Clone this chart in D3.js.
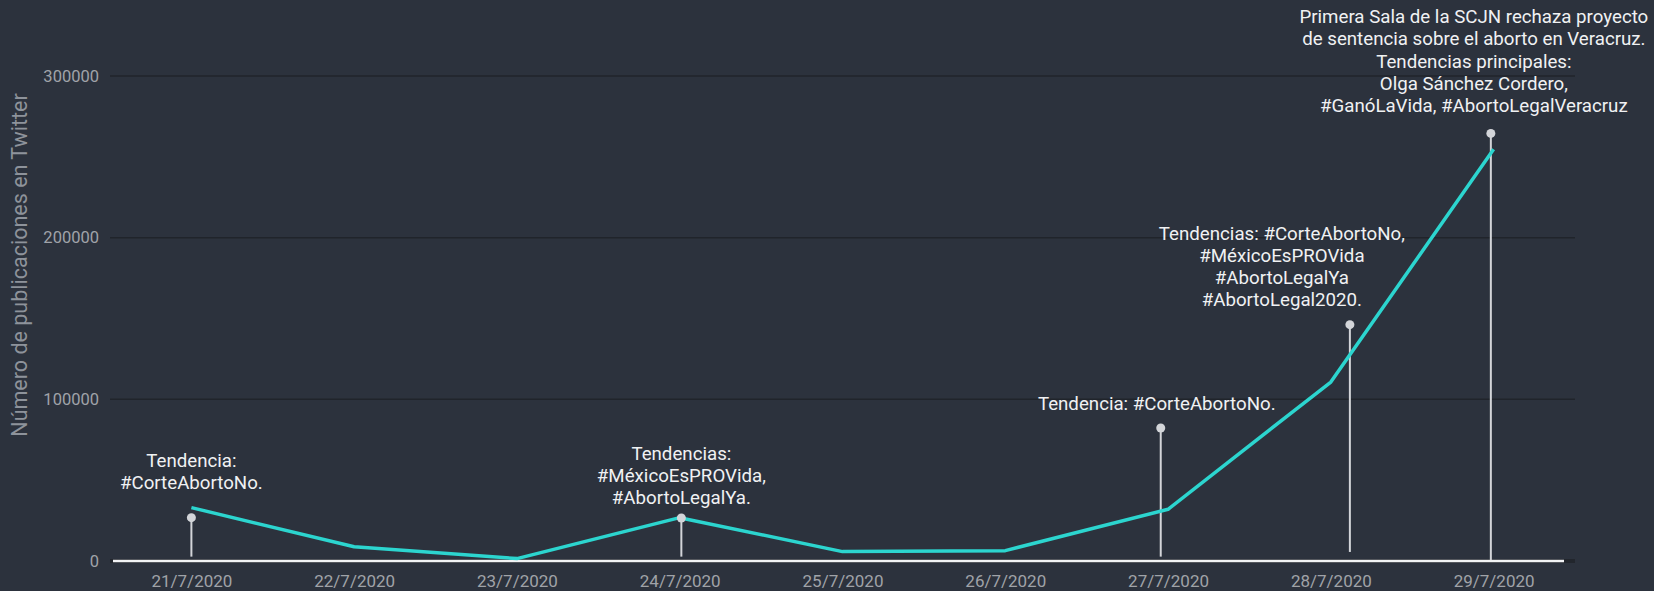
<!DOCTYPE html>
<html>
<head>
<meta charset="utf-8">
<script src="https://d3js.org/d3.v7.min.js"></script>
<style>
  body { margin: 0; background: #2c323d; }
  svg { display: block; font-family: Roboto, "Noto Sans", sans-serif; }
</style>
</head>
<body>
<div id="chart-area"></div>
<script>

// Data
var dates = ["21/7/2020", "22/7/2020", "23/7/2020", "24/7/2020", "25/7/2020",
	"26/7/2020", "27/7/2020", "28/7/2020", "29/7/2020"];
var posts = [33000, 8800, 1500, 26800, 5800, 6400, 32000, 110700, 254700];
var yTicks = [0, 100000, 200000, 300000];

// Annotations (position in days from 21/7, top and bottom value of the pin)
var noteDay = [0, 3.01, 5.955, 7.117, 7.983];
var noteTop = [26800, 26600, 82300, 146200, 264500];
var noteBase = [2700, 2700, 2700, 5600, 600];
var noteText = [
	["Tendencia:", "#CorteAbortoNo."],
	["Tendencias:", "#MéxicoEsPROVida,", "#AbortoLegalYa."],
	["Tendencia: #CorteAbortoNo."],
	["Tendencias: #CorteAbortoNo,", "#MéxicoEsPROVida", "#AbortoLegalYa", "#AbortoLegal2020."],
	["Primera Sala de la SCJN rechaza proyecto", "de sentencia sobre el aborto en Veracruz.",
		"Tendencias principales:", "Olga Sánchez Cordero,", "#GanóLaVida, #AbortoLegalVeracruz"]
];
// label offsets (layout only)
var noteDx = [0, 0, -4, -68, -17];
var noteGap = [25, 20, 24, 25, 28];

// SVG drawing area
var W = 1654, H = 591;
var margin = {top: 76, right: 79, bottom: 30, left: 110};
var width = W - margin.left - margin.right;
var height = 561 - margin.top;

var svg = d3.select("#chart-area").append("svg")
	.attr("width", W)
	.attr("height", H);

var g = svg.append("g")
	.attr("transform", "translate(" + margin.left + "," + margin.top + ")");

// Scales
var step = width / dates.length;
var x = d3.scaleLinear()
	.domain([0, dates.length - 1])
	.range([step / 2, width - step / 2]);

var y = d3.scaleLinear()
	.domain([0, 300000])
	.range([height, 0]);

// Grid lines
g.selectAll(".grid")
	.data(yTicks.slice(1))
	.enter().append("line")
	.attr("class", "grid")
	.attr("x1", 0)
	.attr("x2", width)
	.attr("y1", function(d) { return y(d); })
	.attr("y2", function(d) { return y(d); })
	.attr("stroke", "#20242b")
	.attr("stroke-width", 1.5);

// Y axis
var yAxis = d3.axisLeft(y).tickValues(yTicks).tickSize(0).tickPadding(11)
	.tickFormat(function(d) { return d; });
var yAxisGroup = g.append("g").call(yAxis);
yAxisGroup.select(".domain").remove();
yAxisGroup.selectAll("text")
	.attr("fill", "#a0a3a9")
	.style("font-size", "16.5px")
	.style("font-family", "Roboto");

// X axis
var xAxis = d3.axisBottom(x).tickValues(d3.range(dates.length)).tickSize(0).tickPadding(14)
	.tickFormat(function(d) { return dates[d]; });
var xAxisGroup = g.append("g")
	.attr("transform", "translate(0," + height + ")")
	.call(xAxis);
xAxisGroup.select(".domain").remove();
xAxisGroup.selectAll("text")
	.attr("fill", "#a0a3a8")
	.style("font-size", "17px")
	.style("font-family", "Roboto");

// Baseline
g.append("line")
	.attr("x1", 0).attr("x2", width)
	.attr("y1", y(0)).attr("y2", y(0))
	.attr("stroke", "#22262d")
	.attr("stroke-width", 4);
g.append("line")
	.attr("x1", 3).attr("x2", width - 11)
	.attr("y1", y(0)).attr("y2", y(0))
	.attr("stroke", "#f2f3f5")
	.attr("stroke-width", 2.5);

// Pins
var notes = noteDay.map(function(d, i) {
	return {day: d, top: noteTop[i], base: noteBase[i], lines: noteText[i], dx: noteDx[i], gap: noteGap[i]};
});

g.selectAll(".pin")
	.data(notes)
	.enter().append("line")
	.attr("class", "pin")
	.attr("x1", function(d) { return x(d.day); })
	.attr("x2", function(d) { return x(d.day); })
	.attr("y1", function(d) { return y(d.base); })
	.attr("y2", function(d) { return y(d.top); })
	.attr("stroke", "#d3d5d9")
	.attr("stroke-width", 2);

// Line
var line = d3.line()
	.x(function(d, i) { return x(i); })
	.y(function(d) { return y(d); });

g.append("path")
	.datum(posts)
	.attr("d", line)
	.attr("fill", "none")
	.attr("stroke", "#2cd5cf")
	.attr("stroke-width", 3.5)
	.attr("stroke-linejoin", "round");

g.selectAll(".dot")
	.data(notes)
	.enter().append("circle")
	.attr("class", "dot")
	.attr("cx", function(d) { return x(d.day); })
	.attr("cy", function(d) { return y(d.top); })
	.attr("r", 4.5)
	.attr("fill", "#d3d5d9");

// Annotation texts
var lineH = 22.2;
var labels = g.selectAll(".note")
	.data(notes)
	.enter().append("text")
	.attr("class", "note")
	.attr("text-anchor", "middle")
	.attr("fill", "#f0f1f3")
	.style("font-size", "18.7px")
	.attr("transform", function(d) {
		var i = Math.round(d.day);
		var top = Math.min(y(d.top), y(posts[i]));
		var last = top - d.gap;
		var first = last - (d.lines.length - 1) * lineH;
		return "translate(" + (x(d.day) + d.dx) + "," + first + ")";
	});

labels.selectAll("tspan")
	.data(function(d) { return d.lines; })
	.enter().append("tspan")
	.attr("x", 0)
	.attr("y", function(d, i) { return i * lineH; })
	.attr("dy", "0.35em")
	.text(function(d) { return d; });

// Y axis title
svg.append("text")
	.attr("transform", "translate(19," + 265 + ") rotate(-90)")
	.attr("text-anchor", "middle")
	.attr("dy", "0.35em")
	.attr("fill", "#8e939b")
	.style("font-size", "21.5px")
	.text("Número de publicaciones en Twitter");

</script>
</body>
</html>
